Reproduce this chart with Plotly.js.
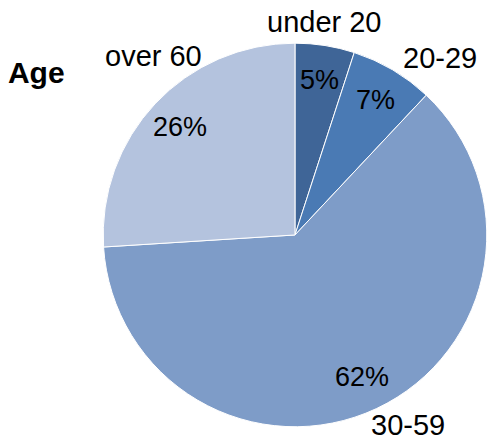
<!DOCTYPE html>
<html>
<head>
<meta charset="utf-8">
<script src="https://cdn.plot.ly/plotly-3.0.1.min.js"></script>
<style>html,body{margin:0;padding:0;background:#fff}#chart{width:490px;height:445px}</style>
</head>
<body>
<div id="chart"></div>
<script>
const categories = ["under 20", "20-29", "30-59", "over 60"];
const values = [5, 7, 62, 26];
const colors = ["#3F6597", "#4A7AB4", "#7E9CC8", "#B4C3DE"];

// layout constants (not data)
const W = 490, H = 445;
const domain = {x: [0.210, 0.994], y: [0.041, 0.903]};
const fontFam = "Liberation Sans, Arial, sans-serif";
const pctRadiusFrac = 0.82;          // percent labels at this fraction of the radius
const labelPos = [[324, 22], [440, 58], [408, 425], [153, 56]]; // category label centres (px)

const pie = {
  type: "pie",
  labels: categories,
  values: values,
  sort: false,
  direction: "clockwise",
  rotation: 0,
  domain: domain,
  marker: {colors: colors, line: {color: "#ffffff", width: 1}},
  textinfo: "none",
  hoverinfo: "label+percent",
  showlegend: false
};

// percent labels placed along each slice's mid-angle (Excel-style)
const cx = (domain.x[0] + domain.x[1]) / 2 * W;
const cy = (1 - (domain.y[0] + domain.y[1]) / 2) * H;
const R = Math.min((domain.x[1] - domain.x[0]) * W, (domain.y[1] - domain.y[0]) * H) / 2;
const total = values.reduce((a, b) => a + b, 0);
const annotations = [];
let cum = 0;
values.forEach((v, i) => {
  const mid = (cum + v / 2) / total * 2 * Math.PI;
  cum += v;
  const px = cx + pctRadiusFrac * R * Math.sin(mid);
  const py = cy - pctRadiusFrac * R * Math.cos(mid);
  annotations.push({
    text: Math.round(v / total * 100) + "%",
    x: px / W, y: 1 - py / H, xref: "paper", yref: "paper",
    xanchor: "center", yanchor: "middle", showarrow: false,
    font: {family: fontFam, size: 27, color: "#000000"}
  });
  annotations.push({
    text: categories[i],
    x: labelPos[i][0] / W, y: 1 - labelPos[i][1] / H, xref: "paper", yref: "paper",
    xanchor: "center", yanchor: "middle", showarrow: false,
    font: {family: fontFam, size: 29, color: "#000000"}
  });
});

const layout = {
  width: W,
  height: H,
  margin: {l: 0, r: 0, t: 0, b: 0},
  paper_bgcolor: "#ffffff",
  font: {family: fontFam},
  title: {
    text: "<b>Age</b>",
    x: 0.074, xanchor: "center", xref: "paper",
    y: 0.836, yanchor: "middle", yref: "paper",
    font: {family: fontFam, size: 30, color: "#000000"}
  },
  annotations: annotations,
  showlegend: false
};

Plotly.newPlot("chart", [pie], layout, {displayModeBar: false, staticPlot: true});
</script>
</body>
</html>
